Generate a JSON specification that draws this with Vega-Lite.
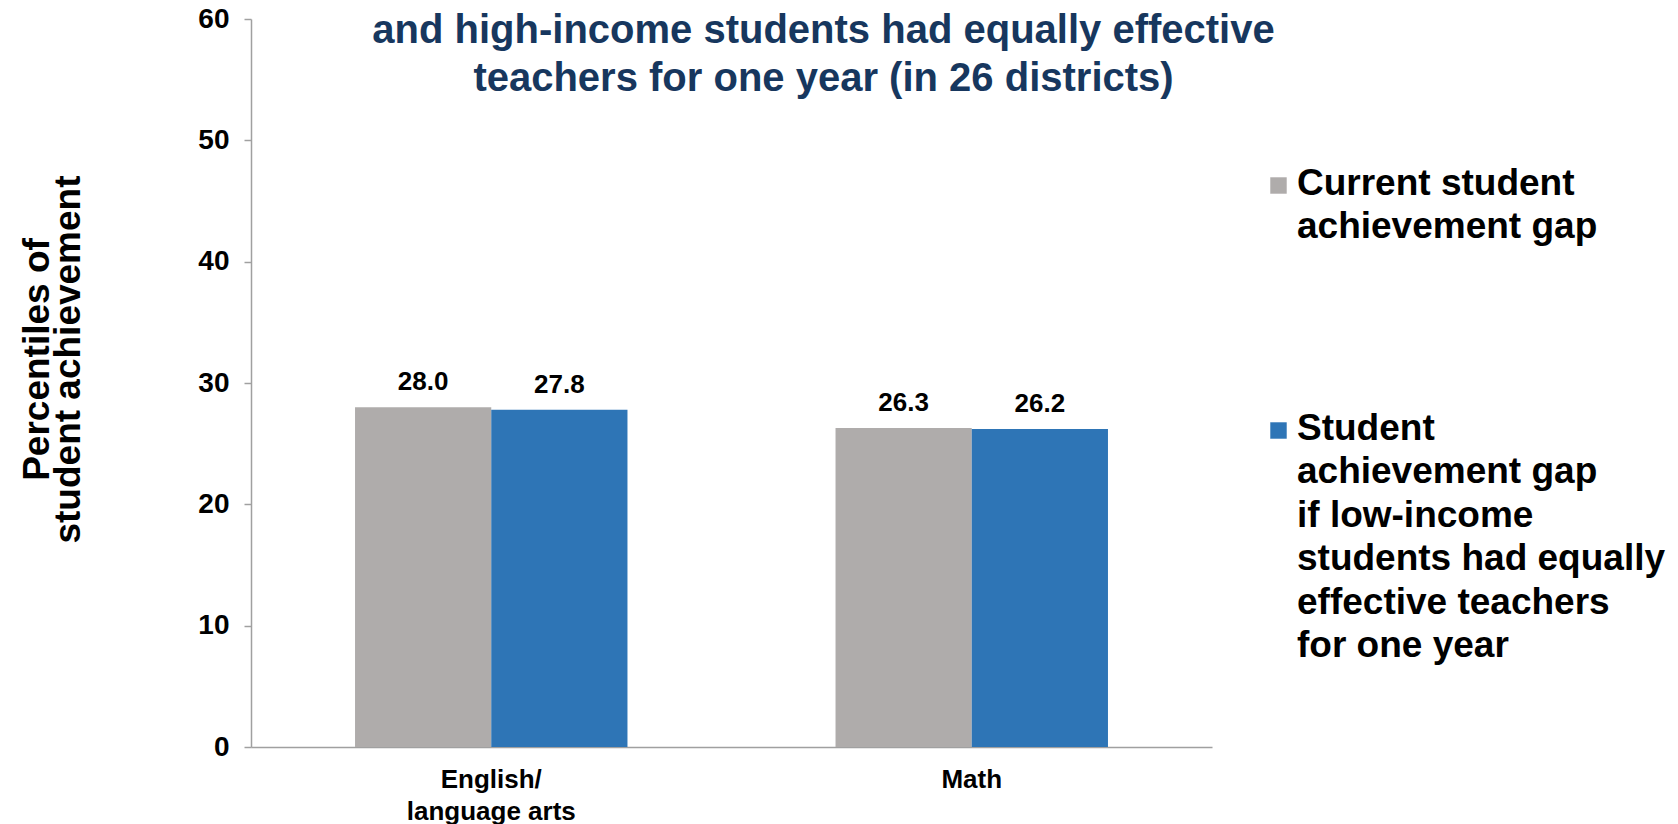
{
  "$schema": "https://vega.github.io/schema/vega-lite/v6.json",
  "autosize": {"type": "none"},
  "width": 961,
  "height": 728,
  "padding": {"left": 251, "top": 19, "right": 466, "bottom": 77},
  "background": "white",
  "view": {"stroke": null},
  "title": {
    "text": ["and high-income students had equally effective", "teachers for one year (in 26 districts)"],
    "orient": "top",
    "anchor": "middle",
    "frame": "group",
    "dx": 92,
    "offset": -94,
    "font": "Liberation Sans, Arial",
    "fontWeight": "bold",
    "fontSize": 40,
    "lineHeight": 48,
    "color": "#17375E"
  },
  "data": {
    "values": [
      {"subject": "English/language arts", "series": "Current student achievement gap", "value": 28.0},
      {"subject": "English/language arts", "series": "Student achievement gap if low-income students had equally effective teachers for one year", "value": 27.8},
      {"subject": "Math", "series": "Current student achievement gap", "value": 26.3},
      {"subject": "Math", "series": "Student achievement gap if low-income students had equally effective teachers for one year", "value": 26.2}
    ]
  },
  "encoding": {
    "x": {
      "field": "subject",
      "type": "nominal",
      "sort": null,
      "scale": {"paddingInner": 0.433, "paddingOuter": 0.2165},
      "axis": {
        "title": null,
        "labelAngle": 0,
        "ticks": false,
        "domainColor": "#A0A0A0",
        "domainWidth": 1.5,
        "labelExpr": "datum.value == 'English/language arts' ? ['English/', 'language arts'] : datum.value",
        "labelFont": "Liberation Sans, Arial",
        "labelFontWeight": "bold",
        "labelFontSize": 26,
        "labelLineHeight": 32,
        "labelColor": "black",
        "labelBaseline": "top",
        "labelPadding": 19
      }
    },
    "xOffset": {"field": "series", "type": "nominal", "sort": null, "scale": {"paddingInner": 0, "paddingOuter": 0}},
    "y": {
      "field": "value",
      "type": "quantitative",
      "scale": {"domain": [0, 60], "nice": false},
      "axis": {
        "values": [0, 10, 20, 30, 40, 50, 60],
        "grid": false,
        "title": ["Percentiles of", "student achievement"],
        "titleFont": "Liberation Sans, Arial",
        "titleFontWeight": "bold",
        "titleFontSize": 37,
        "titleLineHeight": 31,
        "titleColor": "black",
        "titleAngle": -90,
        "titleAlign": "center",
        "titleBaseline": "middle",
        "titleX": -214,
        "titleY": 340,
        "domainColor": "#A0A0A0",
        "domainWidth": 1.5,
        "tickColor": "#A0A0A0",
        "tickWidth": 1.5,
        "tickSize": 7,
        "labelFont": "Liberation Sans, Arial",
        "labelFontWeight": "bold",
        "labelFontSize": 28,
        "labelColor": "black",
        "labelPadding": 15
      }
    }
  },
  "layer": [
    {
      "mark": {"type": "bar"},
      "encoding": {
        "color": {
          "field": "series",
          "type": "nominal",
          "sort": null,
          "scale": {"range": ["#AFACAB", "#2E75B6"]},
          "legend": {
            "title": null,
            "orient": "none",
            "legendX": 1009,
            "legendY": 148,
            "padding": 0,
            "symbolType": "square",
            "symbolSize": 270,
            "symbolStrokeWidth": 0,
            "symbolOpacity": 1,
            "labelFont": "Liberation Sans, Arial",
            "labelFontWeight": "bold",
            "labelFontSize": 37,
            "labelColor": "black",
            "labelBaseline": "top",
            "labelOffset": 0,
            "labelLimit": 700,
            "rowPadding": 164,
            "labelExpr": "datum.label == 'Current student achievement gap' ? ['Current student', 'achievement gap'] : ['Student', 'achievement gap', 'if low-income', 'students had equally', 'effective teachers', 'for one year']",
            "encode": {
              "labels": {"update": {"lineHeight": {"value": 43.5}, "dy": {"value": -20}}}
            }
          }
        }
      }
    },
    {
      "mark": {
        "type": "text",
        "baseline": "alphabetic",
        "dy": -17,
        "font": "Liberation Sans, Arial",
        "fontWeight": "bold",
        "fontSize": 26,
        "color": "black"
      },
      "encoding": {
        "text": {"field": "value", "type": "quantitative", "format": ".1f"}
      }
    }
  ]
}
